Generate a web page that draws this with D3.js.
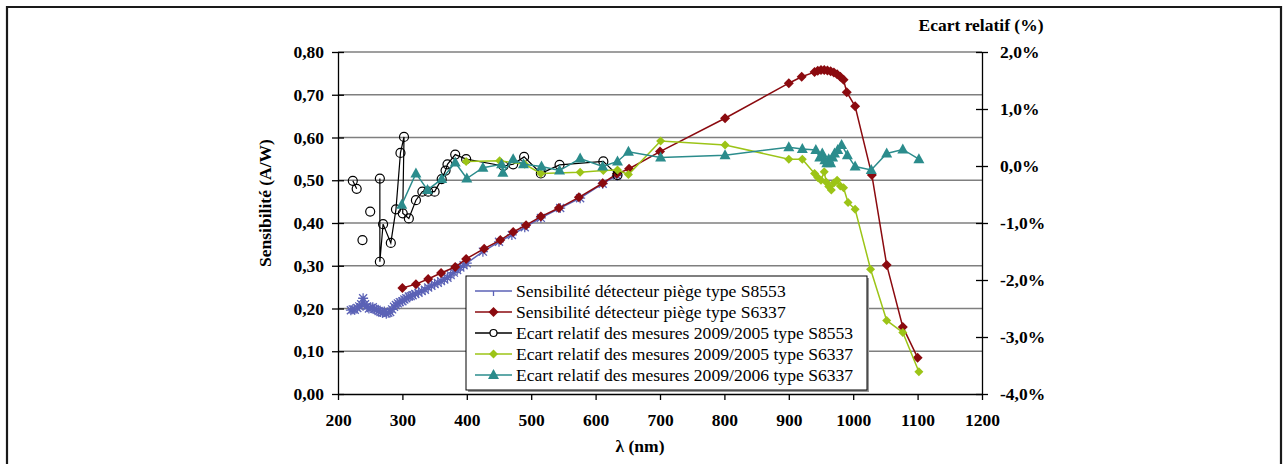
<!DOCTYPE html>
<html><head><meta charset="utf-8">
<script src="https://cdn.jsdelivr.net/npm/d3@7"></script>
<style>body{margin:0;background:#fff}svg{display:block}</style>
</head><body><svg id="c" width="1288" height="464"></svg>
<script>
// ---- data (λ in nm) ----
const sensS8553 = [[220,0.196],[223,0.198],[226,0.197],[230,0.201],[233,0.205],[236,0.210],[239,0.224],[242,0.210],[245,0.205],[248,0.200],[251,0.201],[254,0.203],[257,0.199],[260,0.197],[263,0.194],[266,0.192],[269,0.190],[272,0.193],[275,0.188],[278,0.190],[281,0.192],[284,0.198],[287,0.204],[290,0.208],[293,0.212],[296,0.215],[300,0.217],[303,0.221],[306,0.224],[310,0.228],[313,0.229],[316,0.231],[320,0.234],[325,0.237],[330,0.241],[335,0.244],[340,0.249],[345,0.253],[350,0.257],[355,0.260],[360,0.264],[365,0.268],[370,0.272],[375,0.278],[380,0.284],[385,0.290],[390,0.296],[395,0.301],[400,0.306],[425,0.333],[450,0.356],[470,0.372],[490,0.390],[515,0.412],[545,0.435],[576,0.458],[611,0.492],[633,0.511]];
const sensS6337 = [[300,0.248],[321,0.257],[340,0.269],[360,0.283],[382,0.297],[399,0.316],[427,0.340],[452,0.360],[472,0.379],[492,0.395],[515,0.415],[543,0.435],[574,0.460],[611,0.493],[633,0.515],[652,0.527],[700,0.567],[801,0.645],[900,0.727],[920,0.742],[940,0.753],[945,0.756],[950,0.758],[955,0.758],[960,0.757],[965,0.755],[970,0.752],[975,0.748],[980,0.742],[985,0.735],[990,0.706],[1003,0.673],[1029,0.512],[1052,0.302],[1077,0.157],[1100,0.085]];
const ecart0905S8553 = [[223,-0.26],[229,-0.40],null,[238,-1.30],null,[250,-0.80],null,[265,-0.22],[265,-1.68],[270,-1.02],[282,-1.35],[290,-0.76],[297,0.23],[302.5,0.51],[300.5,-0.83],[310,-0.92],[321,-0.60],[331,-0.45],[340,-0.45],[350,-0.45],[361,-0.23],[367,-0.08],[370,0.03],[382,0.20],[399,0.12],[457,0.00],[472,0.03],[489,0.16],[515,-0.13],[544,0.02],[612,0.08],[634,-0.16]];
const ecart0905S6337 = [[399,0.08],[451,0.09],[490,0.03],[515,-0.13],[576,-0.11],[612,-0.08],[634,-0.07],[651,-0.15],[701,0.44],[801,0.37],[900,0.12],[921,0.12],[940,-0.13],[945,-0.20],[950,-0.25],[955,-0.10],[958,-0.28],[962,-0.36],[966,-0.42],[970,-0.30],[975,-0.25],[980,-0.35],[985,-0.38],[992,-0.64],[1003,-0.76],[1027,-1.81],[1052,-2.71],[1077,-2.92],[1102,-3.61]];
const ecart0906S6337 = [[299,-0.68],[321,-0.13],[339,-0.42],[361,-0.23],[382,0.06],[400,-0.22],[425,-0.03],[454,0.03],[456,-0.12],[472,0.12],[488,0.03],[516,-0.01],[544,-0.08],[576,0.13],[611,-0.01],[634,0.08],[651,0.25],[701,0.15],[801,0.19],[900,0.33],[921,0.30],[942,0.28],[948,0.15],[952,0.22],[956,0.10],[959,0.05],[962,0.12],[965,0.05],[968,0.15],[971,0.22],[976,0.28],[982,0.37],[991,0.19],[1003,-0.01],[1028,-0.07],[1052,0.22],[1077,0.29],[1102,0.12]];
const xTicks = [200,300,400,500,600,700,800,900,1000,1100,1200];
const yLeftTicks = [0,0.1,0.2,0.3,0.4,0.5,0.6,0.7,0.8];
const yRightTicks = [-4,-3,-2,-1,0,1,2];
const legendLabels = ["Sensibilité détecteur piège type S8553","Sensibilité détecteur piège type S6337","Ecart relatif des mesures 2009/2005 type S8553","Ecart relatif des mesures 2009/2005 type S6337","Ecart relatif des mesures 2009/2006 type S6337"];

// ---- layout ----
const L=338,R=982,T=52,B=394;
const FONT="'Liberation Serif'";
const FS=17.5;
const svg=d3.select("#c");
const x=d3.scaleLinear().domain([200,1200]).range([L,R]);
const yL=d3.scaleLinear().domain([0,0.8]).range([B,T]);
const yR=d3.scaleLinear().domain([-4,2]).range([B,T]);

// outer frame
svg.append("path").attr("d","M7,464V7H1281V464").attr("fill","none").attr("stroke","#1a1a1a").attr("stroke-width",2.2);

// gridlines
svg.append("g").selectAll("line").data(yLeftTicks.slice(1)).join("line")
  .attr("x1",L).attr("x2",R).attr("y1",d=>yL(d)).attr("y2",d=>yL(d))
  .attr("stroke","#7f7f7f").attr("stroke-width",1.5);

const loc=d3.formatLocale({decimal:",",thousands:" ",grouping:[3],currency:["",""],minus:"-"});
const fmt2=loc.format(".2f");
const fmtP1=loc.format(".1f");
const fmtP=d=>fmtP1(d)+"%";

const gl=svg.append("g").attr("transform",`translate(${L},0)`)
  .call(d3.axisLeft(yL).tickValues(yLeftTicks).tickFormat(fmt2).tickSize(6).tickPadding(8).tickSizeOuter(0));
gl.selectAll(".tick line").attr("x1",6);
const gr=svg.append("g").attr("transform",`translate(${R},0)`)
  .call(d3.axisRight(yR).tickValues(yRightTicks).tickFormat(fmtP).tickSize(6).tickPadding(12).tickSizeOuter(0));
gr.selectAll(".tick line").attr("x1",-6);
const gb=svg.append("g").attr("transform",`translate(0,${B})`)
  .call(d3.axisBottom(x).tickValues(xTicks).tickFormat(d3.format("d")).tickSize(6).tickPadding(14).tickSizeOuter(0));
[gl,gr,gb].forEach(g=>{
  g.attr("font-family",FONT);
  g.selectAll("path.domain,line").attr("stroke","#000").attr("stroke-width",1.3);
  g.selectAll("text").attr("font-family",FONT).attr("font-size",FS).attr("font-weight","bold").attr("fill","#000");
});

// titles
svg.append("text").attr("x",640).attr("y",452).attr("text-anchor","middle").attr("font-family",FONT).attr("font-size",FS).attr("font-weight","bold").text("λ (nm)");
svg.append("text").attr("transform","translate(271,203) rotate(-90)").attr("text-anchor","middle").attr("font-family",FONT).attr("font-size",FS).attr("font-weight","bold").text("Sensibilité (A/W)");
svg.append("text").attr("x",981).attr("y",31).attr("text-anchor","middle").attr("font-family",FONT).attr("font-size",FS).attr("font-weight","bold").text("Ecart relatif (%)");

// markers
const star="M-4,-4L4,4M-4,4L4,-4M0,-5L0,5M-5,0L5,0";
const diamond=s=>`M0,${-s}L${s},0L0,${s}L${-s},0Z`;
const tri="M0,-6L5.5,4L-5.5,4Z";
const series=[
  {data:sensS8553,y:yL,color:"#5b62b6",w:1.5,marker:"star"},
  {data:sensS6337,y:yL,color:"#8b0a0f",w:1.5,marker:"diamondR"},
  {data:ecart0905S8553,y:yR,color:"#000",w:1.2,marker:"circle"},
  {data:ecart0905S6337,y:yR,color:"#9cc417",w:1.5,marker:"diamondG"},
  {data:ecart0906S6337,y:yR,color:"#2b8c8c",w:1.5,marker:"tri"}
];
function drawMarker(g,m,color){
  if(m==="star") g.append("path").attr("d",star).attr("stroke",color).attr("stroke-width",1.3).attr("fill","none");
  else if(m==="diamondR") g.append("path").attr("d",diamond(5)).attr("fill",color);
  else if(m==="diamondG") g.append("path").attr("d",diamond(4.5)).attr("fill",color);
  else if(m==="circle") g.append("circle").attr("r",4.5).attr("fill","none").attr("stroke",color).attr("stroke-width",1.2);
  else if(m==="tri") g.append("path").attr("d",tri).attr("fill",color);
}
series.forEach(s=>{
  const line=d3.line().defined(d=>d!==null).x(d=>x(d[0])).y(d=>s.y(d[1]));
  svg.append("path").attr("d",line(s.data)).attr("fill","none").attr("stroke",s.color).attr("stroke-width",s.w);
  s.data.filter(d=>d!==null).forEach(d=>{
    const g=svg.append("g").attr("transform",`translate(${x(d[0])},${s.y(d[1])})`);
    drawMarker(g,s.marker,s.color);
  });
});

// legend
const lg=svg.append("g");
lg.append("rect").attr("x",468).attr("y",278).attr("width",401).attr("height",114).attr("fill","#999");
lg.append("rect").attr("x",466).attr("y",276).attr("width",401).attr("height",114).attr("fill","#fff").attr("stroke","#000").attr("stroke-width",1);
series.forEach((s,i)=>{
  const cy=291+i*21;
  lg.append("line").attr("x1",475).attr("x2",512).attr("y1",cy).attr("y2",cy).attr("stroke",s.color).attr("stroke-width",1.5);
  const g=lg.append("g").attr("transform",`translate(493.5,${cy})`);
  if(s.marker==="star") g.append("line").attr("y1",0).attr("y2",5).attr("stroke",s.color).attr("stroke-width",1.3);
  else if(s.marker==="circle") g.append("circle").attr("r",3.5).attr("fill","#fff").attr("stroke",s.color).attr("stroke-width",1.2);
  else drawMarker(g,s.marker,s.color);
  lg.append("text").attr("x",516).attr("y",cy+5.5).attr("font-family",FONT).attr("font-size",17.6).attr("fill","#000").text(legendLabels[i]);
});
</script></body></html>
